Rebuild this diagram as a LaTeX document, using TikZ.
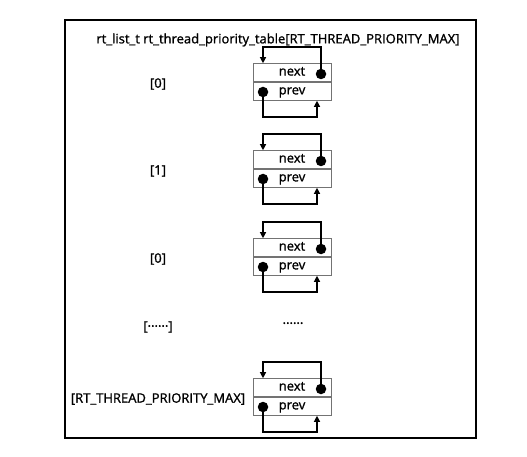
\documentclass[tikz,border=0pt]{standalone}
\usepackage{fontspec}
\setmainfont{Open Sans}
\newfontfamily\lblfont{Open Sans}[FakeBold=1.3]
\usetikzlibrary{arrows.meta}
\begin{document}
\begin{tikzpicture}[x=1pt,y=-1pt,
  cell/.style={draw=black!55, line width=0.8pt, minimum width=78pt, minimum height=18pt, inner sep=0pt, text height=9pt, text depth=3pt, font=\lblfont\fontsize{13}{15}\selectfont},
  dot/.style={circle, fill=black, minimum size=10.5pt, inner sep=0pt},
  conn/.style={draw=black, line width=1.2pt},
  arr/.style={conn, -{Triangle[width=6pt,length=6pt]}},
  lbl/.style={font=\lblfont\fontsize{13}{15}\selectfont, inner sep=0pt},
  frame/.style={draw=black, line width=1.3pt}]
\useasboundingbox (0,0) rectangle (527,457);
\draw[frame] (65,20) rectangle (476,438);
\node[lbl] (title) at (278,40) {rt\_list\_t rt\_thread\_priority\_table[RT\_THREAD\_PRIORITY\_MAX]};
\foreach \i/\yc/\lab in {1/82/{[0]}, 2/169/{[1]}, 3/257/{[0]}, 5/397/{[RT\_THREAD\_PRIORITY\_MAX]}} {
  \node[cell, anchor=south] (n\i) at (292,\yc) {next};
  \node[cell, anchor=north] (p\i) at (292,\yc) {prev};
  \node[dot] (nd\i) at (321,\yc-8) {};
  \node[dot] (pd\i) at (263,\yc+10) {};
  \draw[arr] (nd\i.center) -- ++(0,-27) -| (pd\i |- n\i.north);
  \draw[arr] (pd\i.center) -- ++(0,25) -| ([xshift=-4pt]nd\i |- p\i.south);
  \node[lbl] (l\i) at (158,\yc+2) {\lab};
}
\node[lbl] (l4) at (158,327) {[······]};
\node[lbl] (dots) at (293,325) {······};
\end{tikzpicture}
\end{document}
